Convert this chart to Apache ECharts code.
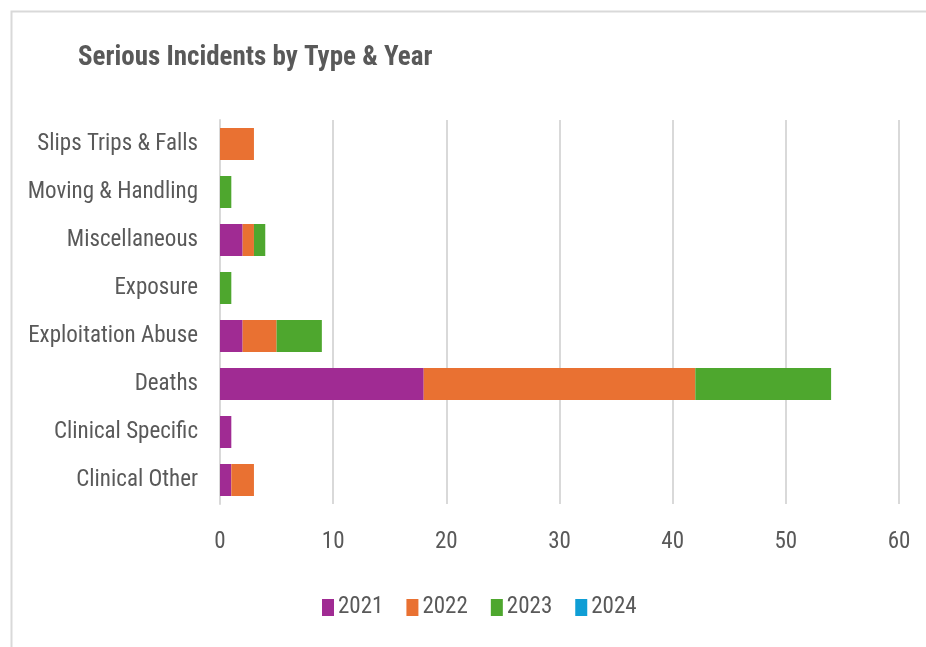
<!DOCTYPE html>
<html>
<head>
<meta charset="utf-8">
<script src="https://cdn.jsdelivr.net/npm/echarts@6/dist/echarts.min.js"></script>
<style>
html,body{margin:0;padding:0;background:#fff;}
#chart{width:926px;height:647px;}
</style>
</head>
<body>
<div id="chart"></div>
<script>
const categories = ['Clinical Other','Clinical Specific','Deaths','Exploitation Abuse','Exposure','Miscellaneous','Moving & Handling','Slips Trips & Falls'];
const years = ['2021','2022','2023','2024'];
const values2021 = [1, 1, 18, 2, 0, 2, 0, 0];
const values2022 = [2, 0, 24, 3, 0, 1, 0, 3];
const values2023 = [0, 0, 12, 4, 1, 1, 1, 0];
const values2024 = [0, 0, 0, 0, 0, 0, 0, 0];
const xTicks = [0, 10, 20, 30, 40, 50, 60];
const colors = ['#A02B93', '#E97132', '#4EA72E', '#0F9ED5'];

const FONT = '"Liberation Sans Narrow", "Arial Narrow", "Roboto Condensed", "Liberation Sans", sans-serif';
const chart = echarts.init(document.getElementById('chart'));
const seriesData = [values2021, values2022, values2023, values2024];
chart.setOption({
  animation: false,
  color: colors,
  graphic: [{
    type: 'rect', left: 9, top: 9,
    shape: {width: 940, height: 660},
    style: {fill: 'none', stroke: '#d9d9d9', lineWidth: 2},
    silent: true
  }],
  title: {
    text: 'Serious Incidents by Type & Year',
    left: 73, top: 40,
    textStyle: {fontFamily: FONT, fontSize: 27, fontWeight: 'bold', color: '#595959'}
  },
  legend: {
    data: years,
    bottom: 23,
    left: 317,
    itemWidth: 12, itemHeight: 17, itemGap: 23,
    icon: 'rect',
    textStyle: {fontFamily: FONT, fontSize: 23, color: '#595959', padding: [0,0,0,-1]}
  },
  grid: {left: 220, right: 27, top: 120, bottom: 143},
  xAxis: {
    type: 'value', min: xTicks[0], max: xTicks[xTicks.length-1], interval: 10,
    axisLine: {show: false}, axisTick: {show: false},
    splitLine: {lineStyle: {color: '#d9d9d9', width: 2}},
    axisLabel: {fontFamily: FONT, fontSize: 23, color: '#595959', margin: 27}
  },
  yAxis: {
    type: 'category', data: categories,
    axisLine: {lineStyle: {color: '#d9d9d9', width: 2}},
    axisTick: {show: false},
    axisLabel: {fontFamily: FONT, fontSize: 23, color: '#595959', margin: 22}
  },
  series: years.map((y, i) => ({
    name: y, type: 'bar', stack: 'total', data: seriesData[i],
    barWidth: 32,
    itemStyle: {color: colors[i]}
  }))
});
</script>
</body>
</html>
